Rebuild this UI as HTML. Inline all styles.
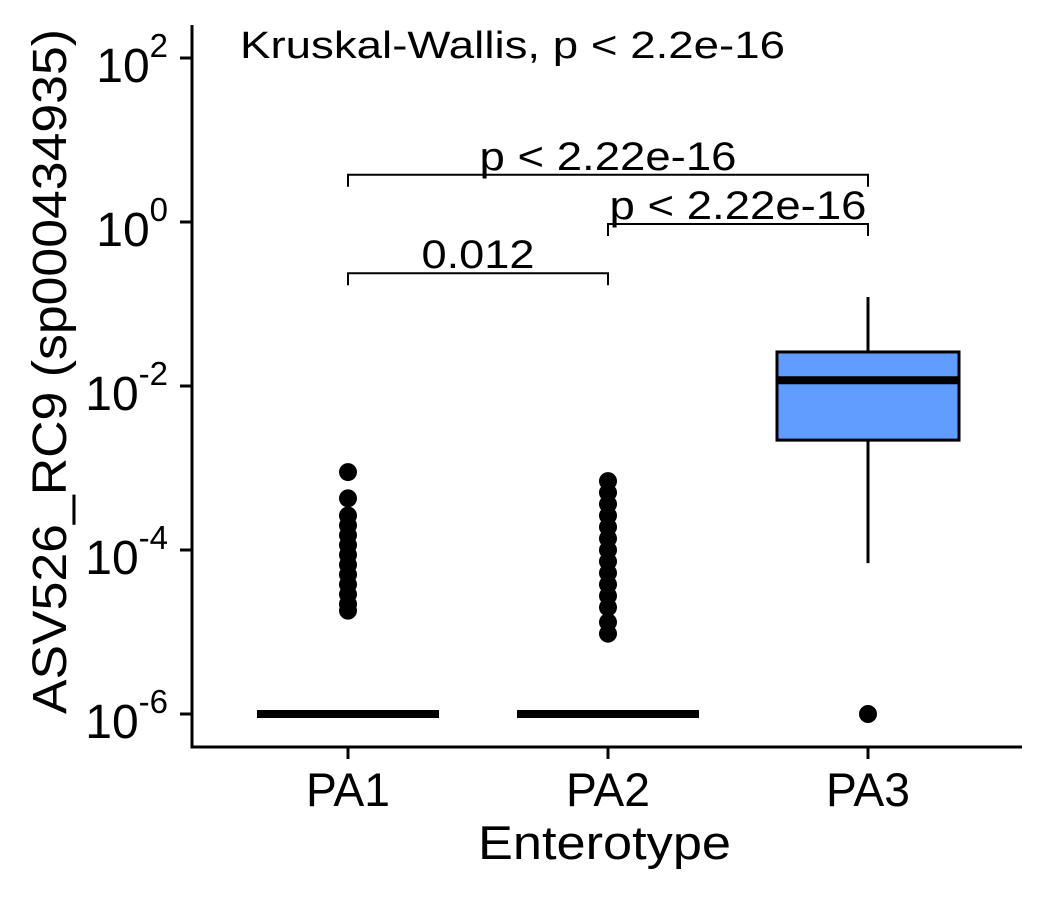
<!DOCTYPE html>
<html><head><meta charset="utf-8">
<style>
html,body{margin:0;padding:0;background:#fff;}
svg{display:block;font-family:"Liberation Sans",Arial,sans-serif;}
</style></head>
<body>
<svg id="chart" width="1050" height="900" viewBox="0 0 1050 900" xmlns="http://www.w3.org/2000/svg"></svg>
<script>
const categories = ["PA1","PA2","PA3"];
const yTickExps = [2,0,-2,-4,-6];
// log10 values
const medians = [-6,-6,-1.93];
const q1s = [-6,-6,-2.66];
const q3s = [-6,-6,-1.585];
const whiskerLows = [-6,-6,-4.16];
const whiskerHighs = [-6,-6,-0.915];
const outliersPA1 = [-3.05,-3.37,-3.58,-3.7,-3.82,-3.94,-4.06,-4.18,-4.3,-4.42,-4.54,-4.66,-4.74];
const outliersPA2 = [-3.16,-3.3,-3.44,-3.58,-3.72,-3.86,-4.0,-4.14,-4.28,-4.42,-4.56,-4.7,-4.88,-5.02];
const outliersPA3 = [-6];
const brackets = [
  {from:0,to:2,label:"p < 2.22e-16",y:0.6},
  {from:1,to:2,label:"p < 2.22e-16",y:0.0},
  {from:0,to:1,label:"0.012",y:-0.6}
];

const svg = document.getElementById('chart');
const NS = "http://www.w3.org/2000/svg";
function yScale(v){ return 222 - v*82; }
function xScale(i){ return 348 + i*260; }
function mk(tag, attrs, parent){
  const e = document.createElementNS(NS, tag);
  for (const k in attrs) e.setAttribute(k, attrs[k]);
  (parent||svg).appendChild(e);
  return e;
}

const axY = mk('line',{x1:192,y1:25,x2:192,y2:748,stroke:'#000','stroke-width':3});


const axX = mk('line',{x1:190.5,y1:747,x2:1022,y2:747,stroke:'#000','stroke-width':3});



yTickExps.forEach(e=>{
  const y = yScale(e);
  const t = mk('line',{x1:180,y1:y,x2:192,y2:y,stroke:'#000','stroke-width':3});
  
  
  const tx = mk('text',{x:168,y:y+24,'text-anchor':'end','font-size':48,fill:'#000'});
  
  
  tx.appendChild(document.createTextNode('10'));
  const sup = mk('tspan',{dy:-25,'font-size':33},tx);
  sup.textContent = String(e);
});

categories.forEach((c,i)=>{
  const x = xScale(i);
  const t = mk('line',{x1:x,y1:747,x2:x,y2:759,stroke:'#000','stroke-width':3});
  
  
  const tx = mk('text',{x:x-42,y:806,'font-size':47,fill:'#000',textLength:84,lengthAdjust:'spacingAndGlyphs'});
  
  
  tx.textContent = c;
});

const xt = mk('text',{x:478,y:859,'font-size':47,fill:'#000',textLength:253,lengthAdjust:'spacingAndGlyphs'});


xt.textContent = 'Enterotype';
const yt = mk('text',{x:-342,y:0,'font-size':48,fill:'#000',textLength:685,lengthAdjust:'spacingAndGlyphs',transform:'translate(66,372) rotate(-90)'});


yt.textContent = 'ASV526_RC9 (sp000434935)';

const kt = mk('text',{x:240,y:58,'font-size':38,fill:'#000',textLength:545,lengthAdjust:'spacingAndGlyphs'});


kt.textContent = 'Kruskal-Wallis, p < 2.2e-16';

const halfW = 91;
categories.forEach((c,i)=>{
  const x = xScale(i);
  const g = mk('g',{});
  
  
  mk('line',{x1:x,y1:yScale(whiskerHighs[i]),x2:x,y2:yScale(q3s[i]),stroke:'#000','stroke-width':3},g);
  mk('line',{x1:x,y1:yScale(q1s[i]),x2:x,y2:yScale(whiskerLows[i]),stroke:'#000','stroke-width':3},g);
  const h = yScale(q1s[i]) - yScale(q3s[i]);
  if (h > 1) {
    mk('rect',{x:x-halfW,y:yScale(q3s[i]),width:2*halfW,height:h,fill:'#619CFF',stroke:'#000','stroke-width':3},g);
  }
  mk('line',{x1:x-halfW,y1:yScale(medians[i]),x2:x+halfW,y2:yScale(medians[i]),stroke:'#000','stroke-width':8},g);
});

[outliersPA1,outliersPA2,outliersPA3].forEach((arr,i)=>{
  arr.forEach(v=>{
    const p = mk('circle',{cx:xScale(i),cy:yScale(v),r:9,fill:'#000'});
    
    
  });
});

brackets.forEach(b=>{
  const y = yScale(b.y) + 2;
  const x1 = xScale(b.from), x2 = xScale(b.to);
  const g = mk('g',{});
  
  
  mk('path',{d:`M${x1},${y+12}V${y}H${x2}V${y+12}`,fill:'none',stroke:'#000','stroke-width':2},g);
  const w = b.label.length > 6 ? 257 : 113;
  const t = mk('text',{x:(x1+x2)/2 - w/2,y:y-5,'font-size':40,fill:'#000',textLength:w,lengthAdjust:'spacingAndGlyphs'},g);
  t.textContent = b.label;
});
</script>
</body></html>
